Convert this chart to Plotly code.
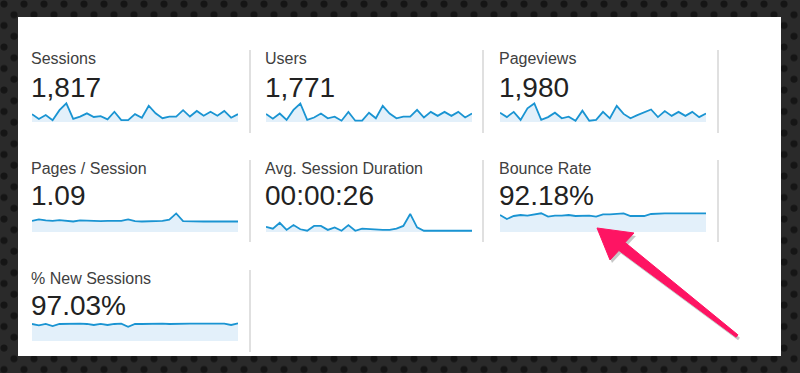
import base64
import plotly.graph_objects as go

W, H = 800, 373

# ---------------- data ----------------
days = list(range(1, 32))
metric_names = ["Sessions", "Users", "Pageviews",
                "Pages / Session", "Avg. Session Duration", "Bounce Rate",
                "% New Sessions"]
metric_totals = ["1,817", "1,771", "1,980", "1.09", "00:00:26", "92.18%", "97.03%"]

sessions = [60, 48, 58, 45, 70, 87, 48, 54, 62, 53, 55, 47, 66, 45, 45, 60,
            51, 81, 62, 50, 54, 54, 70, 54, 68, 56, 66, 56, 68, 51, 60]
users = [61, 49, 62, 46, 71, 87, 46, 52, 62, 50, 54, 44, 66, 44, 44, 64,
         50, 81, 62, 50, 54, 54, 71, 52, 66, 56, 66, 56, 66, 52, 62]
pageviews = [68, 57, 70, 50, 79, 91, 50, 57, 68, 54, 58, 48, 73, 48, 50, 70,
             54, 85, 65, 54, 62, 70, 76, 57, 72, 60, 70, 60, 70, 57, 66]
pages_per_session = [1.09, 1.13, 1.10, 1.09, 1.11, 1.08, 1.07, 1.10, 1.09, 1.08,
                     1.08, 1.09, 1.09, 1.09, 1.13, 1.08, 1.07, 1.07, 1.07, 1.09,
                     1.12, 1.30, 1.08, 1.07, 1.07, 1.07, 1.07, 1.07, 1.07, 1.07, 1.07]
avg_duration_sec = [25, 16, 44, 10, 33, 13, 6, 29, 29, 10, 22, 6, 33, 6, 16, 13,
                    10, 10, 10, 16, 29, 86, 22, 6, 6, 6, 6, 6, 6, 6, 6]
bounce_rate = [92.4, 84.8, 90.5, 92.4, 91.1, 93.7, 95.6, 89.2, 91.1, 91.1, 92.4,
               90.5, 90.5, 91.1, 89.2, 93.7, 93.7, 94.3, 95.6, 90.5, 90.5, 90.5,
               94.3, 95.6, 95.6, 95.6, 95.6, 95.6, 95.6, 95.6, 95.6]
new_sessions_pct = [96.4, 95.2, 96.4, 94.5, 96.4, 96.7, 96.4, 96.7, 96.4, 95.5, 96.4,
                    95.5, 96.4, 96.7, 93.9, 96.4, 96.4, 96.7, 96.4, 96.7, 96.4, 96.7,
                    96.7, 96.7, 96.7, 96.7, 96.7, 96.7, 96.7, 95.5, 97.0]

series = [sessions, users, pageviews, pages_per_session, avg_duration_sec,
          bounce_rate, new_sessions_pct]

# ---------------- layout config ----------------
y_ranges = [[40.4, 92.9], [40.75, 93.25], [44.75, 97.25], [0.77, 1.37],
            [0, 100], [60, 100], [81, 100]]
col_text_x = [30, 264, 498]
col_spark_x = [(32, 238), (266, 472), (500, 706)]
row_label_base = [64, 174, 283.5]
row_num_base = [96.7, 205, 315]
row_spark_y = [(101, 122), (211, 232), (320, 341)]

LINE = "#1a94d2"
FILL = "#e3f0fa"
FONT = "Liberation Sans, Arial, sans-serif"


def px(x):
    return x / W


def py(y):
    return 1 - y / H


fig = go.Figure()
layout = {}
annotations = []
for i, vals in enumerate(series):
    n = i + 1
    sfx = "" if n == 1 else str(n)
    row, col = divmod(i, 3)
    fig.add_trace(go.Scatter(
        x=days, y=vals, mode="lines",
        line=dict(color=LINE, width=1.8),
        fill="tozeroy", fillcolor=FILL,
        xaxis="x" + sfx, yaxis="y" + sfx, hoverinfo="skip", showlegend=False))
    x0, x1 = col_spark_x[col]
    y0, y1 = row_spark_y[row]
    layout["xaxis" + sfx] = dict(domain=[px(x0), px(x1)], range=[1, 31],
                                 visible=False, fixedrange=True, anchor="y" + sfx)
    layout["yaxis" + sfx] = dict(domain=[py(y1), py(y0)], range=y_ranges[i],
                                 visible=False, fixedrange=True, anchor="x" + sfx)
    annotations.append(dict(
        text=metric_names[i], xref="paper", yref="paper",
        x=px(col_text_x[col]), y=py(row_label_base[row] - 0.93 * 16),
        xanchor="left", yanchor="top", showarrow=False, borderpad=0,
        font=dict(family=FONT, size=16, color="#404040")))
    annotations.append(dict(
        text=metric_totals[i], xref="paper", yref="paper",
        x=px(col_text_x[col]), y=py(row_num_base[row] - 0.93 * 28),
        xanchor="left", yanchor="top", showarrow=False, borderpad=0,
        font=dict(family=FONT, size=28, color="#222222")))

# ---------------- decorations ----------------
shapes = []
# white panel
shapes.append(dict(type="rect", xref="paper", yref="paper",
                   x0=px(18), x1=px(781), y0=py(356), y1=py(17),
                   fillcolor="white", line=dict(width=0), layer="below"))
# dividers
div_rows = [(50, 133, [250, 483, 718]), (160, 242, [250, 483, 718]), (270, 352, [250])]
for ya, yb, xs in div_rows:
    for xv in xs:
        shapes.append(dict(type="line", xref="paper", yref="paper",
                           x0=px(xv), x1=px(xv), y0=py(ya), y1=py(yb),
                           line=dict(color="#d6d6d6", width=1.5), layer="below"))

# arrow polygon
arrow_pts = [(597, 228), (634, 233), (625.1, 242.5), (737.9, 334.8),
             (736.1, 337.2), (618.9, 250.5), (610, 260)]


def path_of(pts, dx=0.0, dy=0.0):
    s = ""
    for k, (a, b) in enumerate(pts):
        s += ("M" if k == 0 else "L") + f"{px(a + dx):.5f},{py(b + dy):.5f} "
    return s + "Z"


shapes.append(dict(type="path", xref="paper", yref="paper",
                   path=path_of(arrow_pts, 2, 3), fillcolor="rgba(0,0,0,0.22)",
                   line=dict(width=0)))
shapes.append(dict(type="path", xref="paper", yref="paper",
                   path=path_of(arrow_pts), fillcolor="#fe1463",
                   line=dict(color="#fe1463", width=1)))

# dotted dark background
svg = ("<svg xmlns='http://www.w3.org/2000/svg' width='800' height='373'>"
       "<defs><pattern id='p' width='20' height='21.5' patternUnits='userSpaceOnUse'>"
       "<rect width='20' height='21.5' fill='#2a2a2a'/>"
       "<circle cx='4' cy='4' r='3.6' fill='#151515'/>"
       "<circle cx='14' cy='14.75' r='3.6' fill='#151515'/>"
       "</pattern></defs><rect width='800' height='373' fill='url(#p)'/></svg>")
bg_src = "data:image/svg+xml;base64," + base64.b64encode(svg.encode()).decode()

fig.update_layout(
    width=W, height=H, margin=dict(l=0, r=0, t=0, b=0),
    paper_bgcolor="#2a2a2a", plot_bgcolor="rgba(0,0,0,0)",
    shapes=shapes, annotations=annotations,
    images=[dict(source=bg_src, xref="paper", yref="paper", x=0, y=1,
                 sizex=1, sizey=1, sizing="stretch", layer="below",
                 xanchor="left", yanchor="top")],
    **layout)

fig.write_html(
    "out.html", config={"displayModeBar": False},
    post_script="document.body.style.margin='0px';"
                "document.body.style.background='#2a2a2a';")
